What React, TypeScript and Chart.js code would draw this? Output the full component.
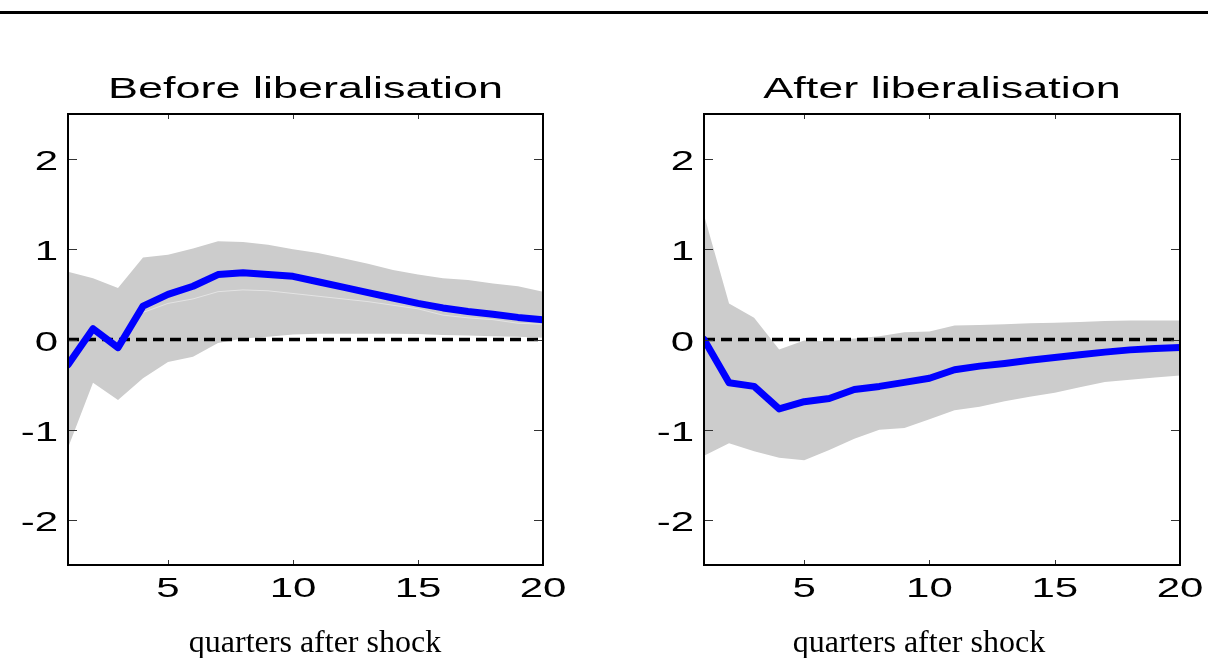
import { useEffect, useRef } from "react";
import { Chart, registerables } from "chart.js";

Chart.register(...registerables);

// Horizon in quarters after the shock
const quarters = [1, 2, 3, 4, 5, 6, 7, 8, 9, 10, 11, 12, 13, 14, 15, 16, 17, 18, 19, 20];

// Before liberalisation: point response and error band
const beforeResponse = [-0.28, 0.12, -0.09, 0.37, 0.5, 0.59, 0.72, 0.74, 0.72, 0.7, 0.64, 0.58, 0.52, 0.46, 0.4, 0.35, 0.31, 0.28, 0.245, 0.22];
const beforeUpper = [0.75, 0.68, 0.57, 0.91, 0.94, 1.01, 1.09, 1.08, 1.05, 1.0, 0.96, 0.9, 0.84, 0.77, 0.72, 0.68, 0.66, 0.62, 0.59, 0.53];
const beforeLower = [-1.2, -0.48, -0.67, -0.43, -0.25, -0.19, -0.04, 0.01, 0.03, 0.055, 0.065, 0.065, 0.065, 0.065, 0.06, 0.05, 0.045, 0.035, 0.03, 0.02];
const beforeMedian = [null, null, null, 0.3, 0.4, 0.45, 0.53, 0.55, 0.54, 0.51, 0.48, 0.45, 0.42, 0.38, 0.34, 0.27, 0.24, 0.22, 0.18, 0.17];

// After liberalisation: point response and error band
const afterResponse = [0.0, -0.48, -0.52, -0.77, -0.69, -0.655, -0.555, -0.52, -0.475, -0.43, -0.335, -0.295, -0.265, -0.23, -0.2, -0.17, -0.14, -0.115, -0.1, -0.09];
const afterUpper = [1.38, 0.4, 0.24, -0.11, -0.01, -0.02, 0.01, 0.035, 0.08, 0.09, 0.155, 0.16, 0.17, 0.18, 0.185, 0.195, 0.205, 0.21, 0.21, 0.21];
const afterLower = [-1.29, -1.15, -1.24, -1.31, -1.34, -1.225, -1.1, -1.0, -0.98, -0.885, -0.785, -0.745, -0.685, -0.635, -0.59, -0.53, -0.47, -0.445, -0.42, -0.4];

// Axis ticks and labels
const yTicks = [-2, -1, 0, 1, 2];
const xTicks = [5, 10, 15, 20];
const yRange = [-2.5, 2.5];
const zeroLevel = 0;
const panelTitles = ["Before liberalisation", "After liberalisation"];
const xAxisLabel = "quarters after shock";

const SANS = '"Liberation Sans", Arial, Helvetica, sans-serif';
const SERIF = '"Liberation Serif", "Times New Roman", serif';
const STRETCH = 1.5;

function pts(values: (number | null)[]) {
  return quarters.map((q, i) => ({ x: q, y: values[i] }));
}

function wideText(ctx: CanvasRenderingContext2D, text: string, x: number, y: number, align: CanvasTextAlign) {
  ctx.save();
  ctx.translate(x, y);
  ctx.scale(STRETCH, 1);
  ctx.textAlign = align;
  ctx.textBaseline = "alphabetic";
  ctx.fillText(text, 0, 0);
  ctx.restore();
}

function framePlugin(title: string) {
  return {
    id: "panelFrame",
    afterDraw(chart: any) {
      const { ctx, chartArea: a, scales } = chart;
      const xs = scales.x;
      const ys = scales.y;
      ctx.save();

      // inward tick marks on all four sides
      ctx.strokeStyle = "#333";
      ctx.lineWidth = 1;
      ctx.beginPath();
      for (const v of yTicks) {
        const py = Math.round(ys.getPixelForValue(v)) + 0.5;
        ctx.moveTo(a.left, py);
        ctx.lineTo(a.left + 9, py);
        ctx.moveTo(a.right, py);
        ctx.lineTo(a.right - 9, py);
      }
      for (const v of xTicks) {
        const px = Math.round(xs.getPixelForValue(v)) + 0.5;
        ctx.moveTo(px, a.bottom);
        ctx.lineTo(px, a.bottom - 5);
        ctx.moveTo(px, a.top);
        ctx.lineTo(px, a.top + 5);
      }
      ctx.stroke();

      // axes box
      ctx.strokeStyle = "#000";
      ctx.lineWidth = 2;
      ctx.strokeRect(a.left, a.top, a.right - a.left, a.bottom - a.top);

      ctx.fillStyle = "#000";
      ctx.font = `28px ${SANS}`;
      for (const v of yTicks) {
        const py = ys.getPixelForValue(v);
        wideText(ctx, String(v), a.left - 10, py + 11, "right");
      }
      for (const v of xTicks) {
        const px = xs.getPixelForValue(v);
        wideText(ctx, String(v), px, a.bottom + 32, "center");
      }

      ctx.font = `30px ${SANS}`;
      wideText(ctx, title, (a.left + a.right) / 2, 98, "center");

      ctx.font = `32px ${SERIF}`;
      ctx.textAlign = "center";
      ctx.textBaseline = "alphabetic";
      ctx.fillText(xAxisLabel, 315, 652);

      ctx.restore();
    },
  };
}

type PanelProps = {
  left: number;
  title: string;
  response: number[];
  upper: number[];
  lower: number[];
  median?: (number | null)[];
  padLeft: number;
  padRight: number;
};

function Panel({ left, title, response, upper, lower, median, padLeft, padRight }: PanelProps) {
  const ref = useRef<HTMLCanvasElement | null>(null);

  useEffect(() => {
    if (!ref.current) return;
    const datasets: any[] = [
      {
        label: "response",
        data: pts(response),
        borderColor: "#0000ff",
        borderWidth: 7,
        borderJoinStyle: "round",
        borderCapStyle: "round",
        fill: false,
        order: 0,
      },
    ];
    if (median) {
      datasets.push({
        label: "median",
        data: pts(median),
        borderColor: "#e4e4e4",
        borderWidth: 1,
        fill: false,
        spanGaps: false,
        order: 1,
      });
    }
    datasets.push(
      {
        label: "zero",
        data: [
          { x: quarters[0], y: zeroLevel },
          { x: quarters[quarters.length - 1], y: zeroLevel },
        ],
        borderColor: "#000",
        borderWidth: 3.5,
        borderDash: [11, 6],
        fill: false,
        order: 2,
      },
      {
        label: "upper",
        data: pts(upper),
        borderWidth: 0,
        borderColor: "rgba(0,0,0,0)",
        backgroundColor: "#cccccc",
        fill: "+1",
        order: 3,
      },
      {
        label: "lower",
        data: pts(lower),
        borderWidth: 0,
        borderColor: "rgba(0,0,0,0)",
        fill: false,
        order: 4,
      }
    );

    const chart = new Chart(ref.current, {
      type: "line",
      data: { datasets },
      options: {
        animation: false,
        responsive: false,
        maintainAspectRatio: false,
        layout: { padding: { left: padLeft, right: padRight, top: 114, bottom: 93 } },
        plugins: {
          legend: { display: false },
          tooltip: { enabled: false },
          title: { display: false },
        },
        elements: { point: { radius: 0 }, line: { tension: 0 } },
        scales: {
          x: { type: "linear", min: quarters[0], max: quarters[quarters.length - 1], display: false },
          y: { type: "linear", min: yRange[0], max: yRange[1], display: false },
        },
      },
      plugins: [framePlugin(title)],
    } as any);

    return () => chart.destroy();
  }, []);

  return (
    <canvas
      ref={ref}
      width={604}
      height={658}
      style={{ position: "absolute", left, top: 0, width: 604, height: 658 }}
    />
  );
}

export default function App() {
  return (
    <div
      style={{
        position: "absolute",
        left: 0,
        top: 0,
        width: 1208,
        height: 658,
        background: "#fff",
        overflow: "hidden",
      }}
    >
      <div style={{ position: "absolute", left: 0, top: 11, width: 1208, height: 3, background: "#000" }} />
      <Panel
        left={0}
        title={panelTitles[0]}
        response={beforeResponse}
        upper={beforeUpper}
        lower={beforeLower}
        median={beforeMedian}
        padLeft={68}
        padRight={61}
      />
      <Panel
        left={604}
        title={panelTitles[1]}
        response={afterResponse}
        upper={afterUpper}
        lower={afterLower}
        padLeft={100}
        padRight={28}
      />
    </div>
  );
}
